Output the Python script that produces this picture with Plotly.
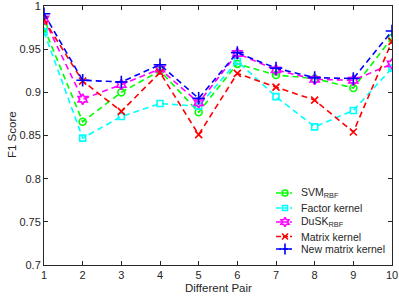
import plotly.graph_objects as go

pairs = [1, 2, 3, 4, 5, 6, 7, 8, 9, 10]
svm_rbf = [0.975, 0.866, 0.900, 0.925, 0.877, 0.933, 0.920, 0.916, 0.905, 0.963]
factor_kernel = [0.970, 0.847, 0.872, 0.887, 0.884, 0.936, 0.895, 0.860, 0.879, 0.928]
dusk_rbf = [0.985, 0.892, 0.909, 0.927, 0.888, 0.945, 0.926, 0.915, 0.914, 0.933]
matrix_kernel = [0.984, 0.913, 0.878, 0.923, 0.851, 0.922, 0.906, 0.891, 0.854, 0.959]
new_matrix_kernel = [0.991, 0.914, 0.912, 0.932, 0.893, 0.946, 0.928, 0.917, 0.916, 0.971]

series_names = ["SVM<sub>RBF</sub>", "Factor kernel", "DuSK<sub>RBF</sub>", "Matrix kernel", "New matrix kernel"]
y_ticks = [0.7, 0.75, 0.8, 0.85, 0.9, 0.95, 1.0]
y_tick_labels = ["0.7", "0.75", "0.8", "0.85", "0.9", "0.95", "1"]

series_values = [svm_rbf, factor_kernel, dusk_rbf, matrix_kernel, new_matrix_kernel]
styles = [
    ("#00ff00", "circle-open", 7),
    ("#00ffff", "square-open", 6),
    ("#ff00ff", "hexagram-open", 8),
    ("#ff0000", "x-thin-open", 7),
    ("#0000ff", "cross-thin-open", 9),
]

FONT = "Liberation Sans, Arial, sans-serif"
AX = "#262626"
DASH = "6px,4px"
L, R, T, B = 44, 7, 6, 34
W, H = 399, 299

fig = go.Figure()
for name, vals, (color, sym, size) in zip(series_names, series_values, styles):
    fig.add_trace(go.Scatter(
        x=pairs, y=vals, name=name, mode="lines+markers", showlegend=False,
        line=dict(color=color, width=1.6, dash=DASH),
        marker=dict(symbol=sym, size=size, color=color, line=dict(color=color, width=1.6)),
    ))

# Legend drawn in a pixel-space overlay (x: 44..392, y: 6..265 from top)
leg_rows = [193, 208, 222, 236.5, 249]
for name, (color, sym, size), yy in zip(series_names, styles, leg_rows):
    fig.add_trace(go.Scatter(
        x=[276, 292], y=[yy, yy], xaxis="x2", yaxis="y2", mode="lines", showlegend=False,
        line=dict(color=color, width=1.6, dash="5px,2px"), hoverinfo="skip",
    ))
    fig.add_trace(go.Scatter(
        x=[285], y=[yy], xaxis="x2", yaxis="y2", mode="markers", showlegend=False,
        marker=dict(symbol=sym, size=max(size - 1, 5), color=color, line=dict(color=color, width=1.6)),
        hoverinfo="skip",
    ))
    fig.add_annotation(x=299, y=yy, xref="x2", yref="y2", text=name, showarrow=False,
                       xanchor="left", yanchor="middle",
                       font=dict(family=FONT, size=10.5, color=AX))

axis_common = dict(
    showgrid=False, zeroline=False, showline=True, linecolor=AX, linewidth=1,
    mirror="ticks", ticks="inside", ticklen=4, tickcolor=AX, automargin=False,
    ticklabeloverflow="allow",
    tickfont=dict(family=FONT, size=11, color=AX),
)

fig.update_layout(
    width=W, height=H,
    margin=dict(l=L, r=R, t=T, b=B),
    paper_bgcolor="white", plot_bgcolor="white",
    font=dict(family=FONT, size=11, color=AX),
    showlegend=False,
    xaxis=dict(range=[1, 10], tickvals=pairs, ticktext=[str(p) for p in pairs], **axis_common),
    yaxis=dict(range=[0.7, 1.0], tickvals=y_ticks, ticktext=y_tick_labels, **axis_common),
    xaxis2=dict(range=[L, W - R], overlaying="x", visible=False, fixedrange=True),
    yaxis2=dict(range=[H - B, T], overlaying="y", visible=False, fixedrange=True),
)

pw, ph = W - L - R, H - T - B
fig.add_annotation(x=(218 - L) / pw, y=(H - B - 288) / ph, xref="paper", yref="paper",
                   text="Different Pair", showarrow=False,
                   xanchor="center", yanchor="middle", font=dict(family=FONT, size=11.5, color=AX))
fig.add_annotation(x=(12 - L) / pw, y=(H - B - 135) / ph, xref="paper", yref="paper",
                   text="F1 Score", showarrow=False, textangle=-90,
                   xanchor="center", yanchor="middle", font=dict(family=FONT, size=11.5, color=AX))

fig.write_html("out.html", config={"displayModeBar": False},
               post_script="document.body.style.margin='0';")
